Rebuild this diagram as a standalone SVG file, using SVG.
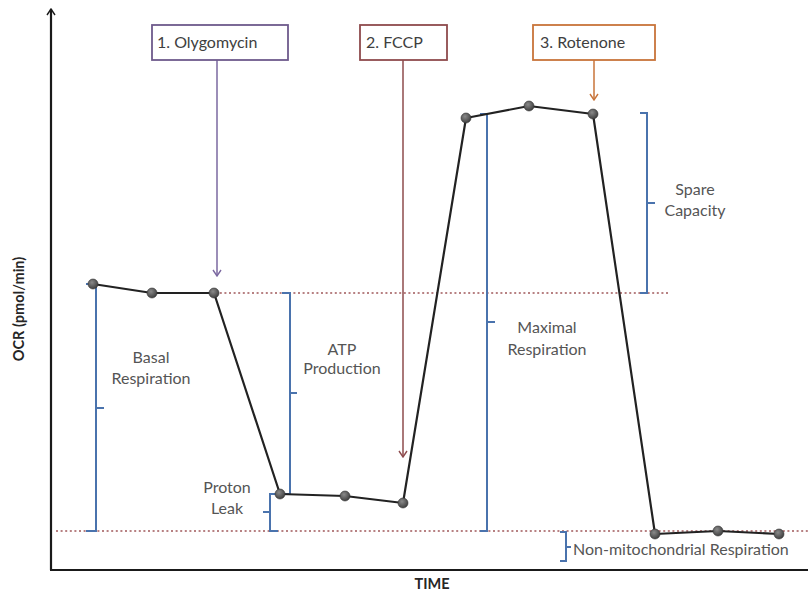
<svg xmlns="http://www.w3.org/2000/svg" width="808" height="595" viewBox="0 0 808 595">
  <style>
    .lbl { font-family: Lato, "Noto Sans", "Liberation Sans", sans-serif; font-size: 16px; fill: #555555; text-anchor: middle; }
    .boxtxt { font-family: Lato, "Noto Sans", "Liberation Sans", sans-serif; font-size: 16px; fill: #404040; }
    .axtitle { font-family: Lato, "Noto Sans", "Liberation Sans", sans-serif; font-size: 14.5px; font-weight: bold; fill: #262626; text-anchor: middle; }
    .axis { stroke: #1a1a1a; stroke-width: 2.2; fill: none; }
    .dots { stroke: #a0585a; stroke-width: 1.6; stroke-dasharray: 2 2.6; fill: none; }
    .brace { stroke: #4a73ad; stroke-width: 2; fill: none; }
    .trace { stroke: #222222; stroke-width: 2.2; fill: none; stroke-linejoin: round; }
    .pt { fill: url(#ball); stroke: #333333; stroke-width: 0.6; }
    .box { fill: #ffffff; stroke-width: 1.8; }
  </style>
  <defs>
    <radialGradient id="ball" cx="0.4" cy="0.35" r="0.7">
      <stop offset="0" stop-color="#8a8a8a"/>
      <stop offset="1" stop-color="#3a3a3a"/>
    </radialGradient>
    <marker id="headUp" viewBox="0 0 10 10" refX="5" refY="1" markerWidth="10" markerHeight="10" markerUnits="userSpaceOnUse" orient="0">
      <path d="M1,7 L5,1 L9,7" fill="none" stroke="#1a1a1a" stroke-width="1.4"/>
    </marker>
    <marker id="headPurple" viewBox="0 0 10 10" refX="5" refY="9" markerWidth="10" markerHeight="10" markerUnits="userSpaceOnUse" orient="0">
      <path d="M1,3 L5,9 L9,3" fill="none" stroke="#7b68a0" stroke-width="1.4"/>
    </marker>
    <marker id="headRed" viewBox="0 0 10 10" refX="5" refY="9" markerWidth="10" markerHeight="10" markerUnits="userSpaceOnUse" orient="0">
      <path d="M1,3 L5,9 L9,3" fill="none" stroke="#8e4b4d" stroke-width="1.4"/>
    </marker>
    <marker id="headOrange" viewBox="0 0 10 10" refX="5" refY="9" markerWidth="10" markerHeight="10" markerUnits="userSpaceOnUse" orient="0">
      <path d="M1,3 L5,9 L9,3" fill="none" stroke="#c8743a" stroke-width="1.4"/>
    </marker>
  </defs>

  <rect width="808" height="595" fill="#ffffff"/>

  <!-- axes -->
  <g id="axes">
    <path class="axis" d="M51,570 L51,9" marker-end="url(#headUp)"/>
    <path class="axis" d="M50,570 L808,570"/>
    <text class="axtitle" x="432" y="589">TIME</text>
    <text class="axtitle" transform="translate(24,309) rotate(-90)">OCR (pmol/min)</text>
  </g>

  <!-- reference levels -->
  <g id="levels">
    <path class="dots" d="M206,293 L668,293"/>
    <path class="dots" d="M56,531 L808,531"/>
  </g>

  <!-- brackets -->
  <g id="brackets">
    <path class="brace" d="M86,284 L96,284 L96,531 L86,531 M96,408 L104,408"/>
    <path class="brace" d="M282,293 L290,293 L290,494 L282,494 M290,393 L297,393"/>
    <path class="brace" d="M278,494 L270,494 L270,531 L278,531 M270,512 L263,512"/>
    <path class="brace" d="M480,114 L487,114 L487,531 L480,531 M487,322 L495,322"/>
    <path class="brace" d="M640,113 L647,113 L647,293 L640,293 M647,203 L655,203"/>
    <path class="brace" d="M560,532 L566,532 L566,561 L560,561 M566,547 L571,547"/>
  </g>

  <!-- connectors -->
  <g id="connectors">
    <path d="M217,60 L217,276" stroke="#7b68a0" stroke-width="1.5" fill="none" marker-end="url(#headPurple)"/>
    <path d="M403,60 L403,457" stroke="#8e4b4d" stroke-width="1.5" fill="none" marker-end="url(#headRed)"/>
    <path d="M594,60 L594,100" stroke="#c8743a" stroke-width="1.5" fill="none" marker-end="url(#headOrange)"/>
    <polyline class="trace" points="93,284 152,293 214,293 280,494 345,496 403,503 466,118 529,106 593,114 655,534 718,531 779,534"/>
  </g>

  <!-- measurements -->
  <g id="points">
    <circle class="pt" cx="93" cy="284" r="5"/>
    <circle class="pt" cx="152" cy="293" r="5"/>
    <circle class="pt" cx="214" cy="293" r="5"/>
    <circle class="pt" cx="280" cy="494" r="5"/>
    <circle class="pt" cx="345" cy="496" r="5"/>
    <circle class="pt" cx="403" cy="503" r="5"/>
    <circle class="pt" cx="466" cy="118" r="5"/>
    <circle class="pt" cx="529" cy="106" r="5"/>
    <circle class="pt" cx="593" cy="114" r="5"/>
    <circle class="pt" cx="655" cy="534" r="5"/>
    <circle class="pt" cx="718" cy="531" r="5"/>
    <circle class="pt" cx="779" cy="534" r="5"/>
  </g>

  <!-- injection boxes -->
  <g id="oligomycin">
    <rect class="box" x="152" y="25" width="136" height="35" stroke="#6e5a8c"/>
    <text class="boxtxt" x="157" y="48">1. Olygomycin</text>
  </g>
  <g id="fccp">
    <rect class="box" x="360" y="25" width="87" height="35" stroke="#8e4b4d"/>
    <text class="boxtxt" x="366" y="48">2. FCCP</text>
  </g>
  <g id="rotenone">
    <rect class="box" x="533" y="25" width="122" height="35" stroke="#c8743a"/>
    <text class="boxtxt" x="540" y="48">3. Rotenone</text>
  </g>

  <!-- region labels -->
  <g id="basal">
    <text class="lbl" x="151" y="363">Basal</text>
    <text class="lbl" x="151" y="384">Respiration</text>
  </g>
  <g id="atp">
    <text class="lbl" x="342" y="355">ATP</text>
    <text class="lbl" x="342" y="374">Production</text>
  </g>
  <g id="proton">
    <text class="lbl" x="227" y="493">Proton</text>
    <text class="lbl" x="227" y="514">Leak</text>
  </g>
  <g id="maximal">
    <text class="lbl" x="547" y="333">Maximal</text>
    <text class="lbl" x="547" y="355">Respiration</text>
  </g>
  <g id="spare">
    <text class="lbl" x="695" y="195">Spare</text>
    <text class="lbl" x="695" y="216">Capacity</text>
  </g>
  <g id="nonmito">
    <text class="lbl" x="573" y="555" style="text-anchor:start">Non-mitochondrial Respiration</text>
  </g>
</svg>
